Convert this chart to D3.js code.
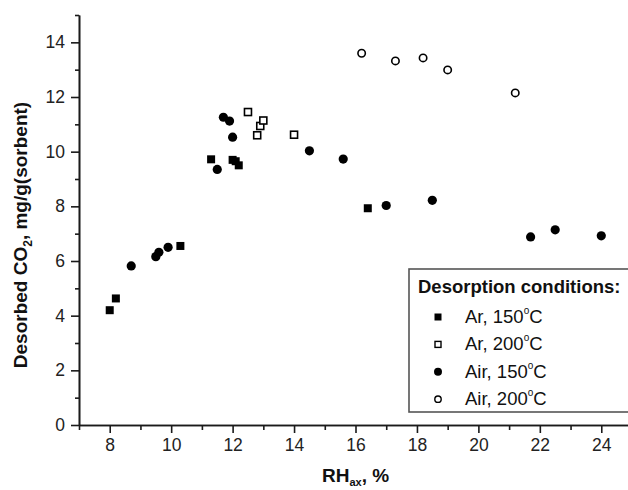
<!DOCTYPE html>
<html>
<head>
<meta charset="utf-8">
<script src="https://cdn.jsdelivr.net/npm/d3@7"></script>
<style>
  body { margin: 0; background: #fff; }
  svg { display: block; font-family: "Liberation Sans", Arial, sans-serif; }
</style>
</head>
<body>
<div id="chart"></div>
<script>
// data
let arX150 = [8.0, 8.2, 10.3, 11.3, 12.0, 12.1, 12.2, 16.4];
let arY150 = [4.2, 4.63, 6.55, 9.72, 9.7, 9.65, 9.5, 7.93];
let arX200 = [12.5, 12.8, 12.9, 13.0, 14.0];
let arY200 = [11.45, 10.6, 10.94, 11.14, 10.62];
let airX150 = [8.7, 9.5, 9.6, 9.9, 11.5, 11.7, 11.9, 12.0, 14.5, 15.6, 17.0, 18.5, 21.7, 22.5, 24.0];
let airY150 = [5.82, 6.16, 6.32, 6.5, 9.35, 11.26, 11.12, 10.53, 10.03, 9.73, 8.03, 8.22, 6.88, 7.14, 6.92];
let airX200 = [16.2, 17.3, 18.2, 19.0, 21.2];
let airY200 = [13.6, 13.32, 13.43, 12.99, 12.15];

let xMajor = [8, 10, 12, 14, 16, 18, 20, 22, 24];
let xMinor = [7, 9, 11, 13, 15, 17, 19, 21, 23, 25];
let yMajor = [0, 2, 4, 6, 8, 10, 12, 14];
let yMinor = [1, 3, 5, 7, 9, 11, 13, 15];

let legendNames = ["Ar, 150", "Ar, 200", "Air, 150", "Air, 200"];

let width = 628;
let height = 490;
let margin = { left: 79, top: 15, right: -4, bottom: 65 };

let svg = d3
  .select("#chart")
  .append("svg")
  .attr("width", width)
  .attr("height", height);

let x = d3.scaleLinear().domain([7, 25]).range([margin.left, width - margin.right]);
let y = d3.scaleLinear().domain([0, 15]).range([height - margin.bottom, margin.top]);

let axisColor = "#1a1a1a";

// x axis
let gx = svg.append("g").attr("transform", "translate(0," + y(0) + ")");
gx.call(d3.axisBottom(x).tickValues(xMajor).tickSize(8).tickSizeOuter(0).tickPadding(6));
gx.append("g").call(d3.axisBottom(x).tickValues(xMinor).tickSize(5).tickSizeOuter(0).tickFormat(""));
gx.selectAll("path.domain").attr("stroke", axisColor).attr("stroke-width", 1.6);
gx.selectAll("line").attr("stroke", axisColor).attr("stroke-width", 1.6);
gx.selectAll("text").attr("font-size", 17.5).attr("fill", "#222").attr("font-family", null);

// y axis
let gy = svg.append("g").attr("transform", "translate(" + x(7) + ",0)");
gy.call(d3.axisLeft(y).tickValues(yMajor).tickSize(8).tickSizeOuter(0).tickPadding(6));
gy.append("g").call(d3.axisLeft(y).tickValues(yMinor).tickSize(4).tickSizeOuter(0).tickFormat(""));
gy.selectAll("path.domain").attr("stroke", axisColor).attr("stroke-width", 1.6);
gy.selectAll("line").attr("stroke", axisColor).attr("stroke-width", 1.6);
gy.selectAll("text").attr("font-size", 17.5).attr("fill", "#222").attr("font-family", null);

// axis titles
let xt = svg
  .append("text")
  .attr("x", (x(7) + x(25)) / 2)
  .attr("y", 482)
  .attr("text-anchor", "middle")
  .attr("font-weight", "bold")
  .attr("font-size", 19)
  .attr("fill", "#111");
xt.append("tspan").text("RH");
xt.append("tspan").attr("font-size", 11).attr("dy", 4).text("ax");
xt.append("tspan").attr("dy", -4).text(", %");

let yt = svg
  .append("text")
  .attr("transform", "translate(27," + 235 + ") rotate(-90)")
  .attr("text-anchor", "middle")
  .attr("font-weight", "bold")
  .attr("font-size", 19)
  .attr("fill", "#111");
yt.append("tspan").text("Desorbed CO");
yt.append("tspan").attr("font-size", 12).attr("dy", 5).text("2");
yt.append("tspan").attr("dy", -5).text(", mg/g(sorbent)");

// markers
function drawSquares(xs, ys, filled, size) {
  svg
    .append("g")
    .selectAll("rect")
    .data(xs.map((d, i) => [d, ys[i]]))
    .enter()
    .append("rect")
    .attr("x", (d) => x(d[0]) - size / 2)
    .attr("y", (d) => y(d[1]) - size / 2)
    .attr("width", size)
    .attr("height", size)
    .attr("fill", filled ? "#000" : "#fff")
    .attr("stroke", "#000")
    .attr("stroke-width", filled ? 0 : 1.6);
}

function drawCircles(xs, ys, filled, r) {
  svg
    .append("g")
    .selectAll("circle")
    .data(xs.map((d, i) => [d, ys[i]]))
    .enter()
    .append("circle")
    .attr("cx", (d) => x(d[0]))
    .attr("cy", (d) => y(d[1]))
    .attr("r", r)
    .attr("fill", filled ? "#000" : "#fff")
    .attr("stroke", "#000")
    .attr("stroke-width", filled ? 0 : 1.6);
}

drawSquares(arX150, arY150, true, 8);
drawSquares(arX200, arY200, false, 7);
drawCircles(airX150, airY150, true, 4.6);
drawCircles(airX200, airY200, false, 3.7);

// legend
let lg = svg.append("g").attr("transform", "translate(409,269)");
lg.append("rect")
  .attr("width", 240)
  .attr("height", 143)
  .attr("fill", "#fff")
  .attr("stroke", "#555")
  .attr("stroke-width", 1.6);

lg.append("text")
  .attr("x", 9)
  .attr("y", 24)
  .attr("font-weight", "bold")
  .attr("font-size", 18.5)
  .attr("fill", "#111")
  .text("Desorption conditions:");

legendNames.forEach(function (name, i) {
  let cy = 48 + i * 27.4;
  let sx = 29;
  if (i === 0) {
    lg.append("rect").attr("x", sx - 3.5).attr("y", cy - 3.5).attr("width", 7).attr("height", 7).attr("fill", "#000");
  } else if (i === 1) {
    lg.append("rect").attr("x", sx - 3).attr("y", cy - 3).attr("width", 6).attr("height", 6)
      .attr("fill", "#fff").attr("stroke", "#000").attr("stroke-width", 1.4);
  } else if (i === 2) {
    lg.append("circle").attr("cx", sx).attr("cy", cy).attr("r", 4).attr("fill", "#000");
  } else {
    lg.append("circle").attr("cx", sx).attr("cy", cy).attr("r", 3.2)
      .attr("fill", "#fff").attr("stroke", "#000").attr("stroke-width", 1.4);
  }
  let t = lg
    .append("text")
    .attr("x", 56)
    .attr("y", cy + 6)
    .attr("font-size", 18.5)
    .attr("fill", "#111");
  t.append("tspan").text(name);
  t.append("tspan").attr("font-size", 10).attr("dy", -9).text("o");
  t.append("tspan").attr("dy", 9).text("C");
});
</script>
</body>
</html>
